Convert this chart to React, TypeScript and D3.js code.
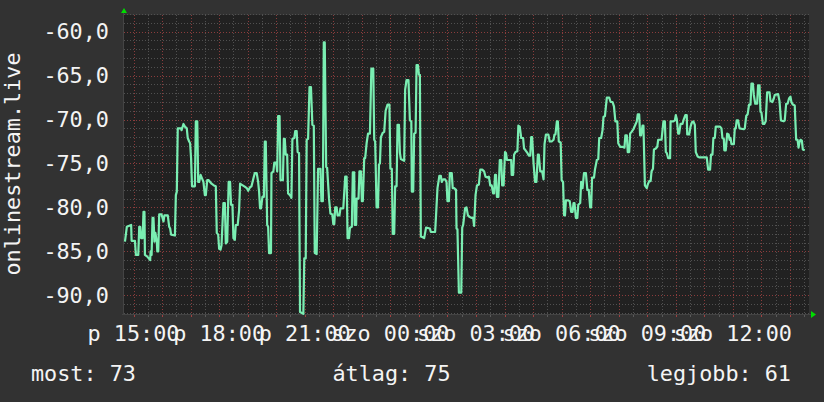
import React from "react";
import * as d3 from "d3";

// minutes after 14:40 (Fri) -> signal value
const readings: [number, number][] = [
[2,-83.9],[6,-82.2],[15,-82.0],[16,-83.8],[23,-83.8],[25,-85.4],[30,-85.4],[32,-82.2],[34,-82.2],[36,-83.5],[39,-83.5],[41,-80.5],[43,-80.5],[44,-85.4],[49,-85.6],[55,-86.0],[56,-85.0],[58,-85.4],[60,-81.2],[62,-81.2],[64,-83.9],[66,-82.9],[69,-83.9],[70,-85.0],[72,-85.0],[74,-80.8],[79,-80.8],[81,-81.2],[83,-81.6],[85,-80.9],[92,-80.9],[95,-82.2],[97,-82.4],[99,-83.1],[107,-83.2],[109,-78.6],[111,-78.2],[113,-71.0],[120,-71.0],[121,-71.2],[125,-70.5],[128,-70.8],[132,-71.0],[134,-72.1],[137,-72.5],[139,-72.7],[141,-74.4],[143,-77.6],[149,-77.6],[151,-70.2],[154,-70.2],[156,-77.1],[158,-77.1],[161,-76.3],[164,-76.7],[167,-77.1],[170,-78.6],[172,-78.6],[175,-76.9],[178,-76.9],[181,-77.1],[184,-77.3],[189,-77.5],[193,-77.6],[195,-82.9],[198,-83.1],[200,-84.7],[203,-84.8],[205,-84.3],[209,-79.5],[212,-79.5],[214,-84.1],[217,-83.9],[220,-77.1],[223,-77.1],[225,-79.7],[228,-79.7],[230,-83.5],[233,-83.7],[235,-82.0],[239,-82.0],
[242,-80.3],[244,-77.3],[247,-77.4],[253,-77.6],[258,-77.8],[261,-78.1],[265,-77.7],[268,-77.6],[272,-76.7],[275,-76.1],[279,-76.1],[282,-77.1],[284,-78.2],[286,-80.1],[288,-80.1],[291,-78.8],[294,-78.8],[296,-72.5],[298,-72.5],[301,-82.0],[303,-82.2],[305,-85.2],[309,-85.2],[310,-76.1],[314,-75.9],[316,-74.9],[320,-74.9],[322,-75.9],[324,-69.6],[327,-69.6],[329,-76.9],[334,-76.9],[336,-72.2],[338,-72.2],[340,-74.0],[343,-74.0],[345,-78.4],[349,-78.6],[352,-78.9],[354,-72.2],[358,-72.1],[360,-71.3],[363,-71.3],[365,-73.7],[368,-73.8],[370,-91.9],[377,-92.1],[379,-85.8],[382,-85.8],[384,-72.3],[387,-72.2],[390,-66.3],[393,-66.3],[396,-70.6],[399,-70.7],[401,-85.2],[405,-85.3],[408,-75.6],[413,-75.6],[415,-79.3],[418,-79.3],[420,-61.2],[422,-61.2],[425,-75.4],[427,-75.5],[431,-79.0],[434,-80.7],[438,-80.8],[440,-81.9],[442,-81.9],[444,-80.0],[447,-80.0],[449,-80.9],[453,-80.9],[455,-80.1],[461,-80.1],[465,-76.5],[468,-76.5],[470,-83.5],[473,-83.5],[475,-82.3],[479,-82.2],[481,-76.0],[484,-76.0],
[485,-82.0],[488,-82.0],[489,-79.0],[493,-79.0],[495,-75.9],[498,-75.9],[500,-79.3],[502,-79.3],[505,-74.4],[507,-74.4],[510,-72.7],[513,-71.6],[517,-71.6],[520,-64.2],[524,-64.2],[526,-72.3],[528,-72.5],[531,-80.0],[534,-80.0],[536,-75.1],[538,-75.0],[540,-72.0],[544,-71.5],[547,-71.4],[550,-69.0],[554,-68.3],[558,-68.3],[560,-75.6],[563,-75.6],[565,-83.0],[568,-83.0],[570,-77.6],[573,-77.6],[575,-70.6],[578,-70.6],[580,-73.8],[582,-74.5],[589,-74.7],[591,-66.6],[594,-65.5],[598,-65.5],[601,-70.1],[604,-70.2],[605,-78.2],[608,-78.2],[610,-71.6],[613,-71.5],[615,-63.8],[618,-63.8],[620,-64.9],[622,-64.9],[624,-83.3],[628,-83.4],[631,-83.5],[635,-82.3],[643,-82.4],[645,-82.8],[654,-82.8],[656,-80.9],[659,-77.8],[663,-76.4],[666,-76.4],[668,-77.1],[671,-76.8],[675,-76.8],[678,-77.1],[680,-79.3],[683,-79.3],[685,-76.1],[689,-76.1],[691,-77.8],[694,-77.8],[698,-78.0],[699,-82.4],[701,-82.5],[704,-89.7],[709,-89.7],[711,-82.3],[713,-82.0],
[717,-80.1],[720,-80.0],[723,-80.9],[727,-81.1],[731,-81.2],[734,-81.2],[736,-82.1],[739,-78.6],[742,-77.5],[746,-77.4],[749,-75.7],[753,-75.7],[757,-75.9],[760,-76.5],[764,-76.6],[767,-76.5],[770,-77.5],[773,-77.5],[776,-78.4],[778,-78.4],[780,-76.3],[782,-76.3],[784,-78.8],[787,-78.8],[790,-74.6],[793,-74.6],[795,-77.5],[798,-77.5],[801,-73.7],[803,-73.8],[805,-74.6],[814,-74.6],[815,-76.3],[818,-76.3],[820,-74.0],[823,-73.7],[827,-73.6],[829,-70.7],[832,-70.8],[835,-72.1],[839,-72.1],[841,-73.3],[844,-73.5],[848,-73.8],[851,-74.1],[854,-74.1],[856,-72.0],[858,-72.0],[861,-75.0],[864,-77.1],[867,-77.1],[870,-74.0],[872,-74.0],[875,-75.9],[879,-75.9],[882,-76.8],[884,-72.8],[887,-71.7],[892,-71.7],[895,-72.5],[899,-72.5],[903,-72.3],[905,-71.7],[907,-71.7],[910,-70.2],[912,-70.2],[914,-72.5],[918,-72.6],[920,-76.9],[923,-77.1],[925,-80.9],[927,-80.9],[929,-79.2],[934,-79.2],[937,-79.3],[940,-80.5],[943,-80.5],[945,-79.5],[947,-79.5],[950,-81.2],[953,-81.2],[955,-79.7],[959,-79.5],[961,-77.1],
[964,-77.8],[967,-76.1],[971,-76.1],[974,-78.0],[977,-78.0],[980,-80.0],[982,-80.0],[984,-76.6],[988,-76.6],[990,-75.7],[994,-74.6],[997,-74.5],[999,-72.1],[1003,-72.1],[1006,-71.2],[1008,-69.7],[1011,-69.6],[1015,-67.5],[1020,-67.5],[1023,-68.0],[1027,-68.0],[1030,-68.5],[1033,-70.2],[1037,-70.2],[1039,-72.7],[1043,-73.1],[1048,-73.1],[1052,-73.2],[1054,-71.8],[1057,-71.8],[1059,-73.7],[1062,-73.7],[1064,-71.6],[1067,-71.4],[1071,-71.1],[1074,-70.7],[1078,-70.2],[1080,-69.4],[1083,-69.4],[1085,-71.8],[1087,-71.8],[1090,-70.7],[1092,-70.7],[1095,-77.5],[1099,-77.8],[1101,-77.4],[1104,-77.0],[1107,-77.0],[1109,-75.9],[1112,-75.6],[1114,-73.4],[1118,-73.3],[1121,-73.1],[1123,-72.3],[1130,-72.3],[1134,-70.2],[1137,-70.2],[1139,-73.7],[1141,-73.8],[1144,-74.4],[1148,-74.4],[1149,-70.2],[1155,-70.2],[1158,-70.1],[1160,-69.5],[1162,-69.9],[1165,-71.6],[1167,-71.6],[1170,-70.5],[1174,-70.5],[1176,-70.1],[1180,-69.5],[1183,-69.5],[1184,-71.7],[1188,-71.7],[1191,-70.8],[1194,-70.3],[1197,-70.2],
[1200,-70.6],[1202,-73.7],[1206,-74.2],[1209,-74.3],[1225,-74.3],[1228,-75.7],[1232,-75.7],[1234,-74.0],[1237,-74.0],[1239,-72.1],[1242,-72.1],[1244,-70.8],[1253,-70.8],[1256,-71.0],[1258,-72.1],[1261,-72.2],[1262,-73.5],[1265,-73.5],[1268,-71.6],[1271,-71.7],[1273,-72.3],[1275,-72.1],[1277,-72.8],[1282,-72.8],[1284,-71.0],[1286,-71.0],[1288,-70.1],[1291,-70.1],[1294,-71.0],[1303,-71.1],[1305,-71.0],[1308,-69.6],[1311,-69.4],[1314,-68.3],[1317,-68.3],[1319,-65.9],[1322,-65.9],[1324,-67.2],[1327,-68.2],[1331,-68.2],[1333,-66.1],[1336,-66.1],[1338,-69.1],[1340,-69.2],[1343,-70.5],[1346,-70.5],[1349,-70.2],[1352,-66.9],[1357,-66.9],[1359,-67.9],[1363,-68.0],[1366,-67.6],[1368,-67.2],[1375,-67.1],[1378,-67.9],[1381,-70.1],[1387,-70.2],[1389,-70.1],[1392,-68.2],[1395,-68.2],[1398,-67.6],[1401,-67.4],[1403,-68.0],[1406,-68.3],[1410,-68.4],[1413,-72.3],[1416,-72.3],[1418,-73.2],[1420,-72.6],[1422,-72.3],[1425,-72.4],[1427,-73.4],[1431,-73.5]
];

const yTicks = [-60, -65, -70, -75, -80, -85, -90];
const xLabelMinutes = [20, 200, 380, 560, 740, 920, 1100, 1280];
const xLabels = ["p 15:00", "p 18:00", "p 21:00", "szo 00:00", "szo 03:00", "szo 06:00", "szo 09:00", "szo 12:00"];
const legendLabels = ["most: 73", "átlag: 75", "legjobb: 61"];
const yTitle = "onlinestream.live";

const W = 824, H = 402;
const L = 124, R = 809, T = 15, B = 314;
const FONT = "'DejaVu Sans Mono', monospace";
const FS = 21.8;

export default function App() {
  const x = d3.scaleLinear().domain([0, 1440]).range([L, R]);
  const y = d3.scaleLinear().domain([-92.13, -58.1]).range([B, T]);
  const line = d3.line<[number, number]>().x(d => x(d[0])).y(d => y(d[1]));

  const minorY = d3.range(-92, -58 + 0.001, 1);
  const minorX = d3.range(20 - 30, 1440 + 1, 30).filter(m => m > 0 && m < 1440);

  return (
    <svg width={W} height={H} style={{ position: "absolute", left: 0, top: 0 }} fontFamily={FONT}>
      <rect width={W} height={H} fill="#323232" />
      <rect x={L} y={T} width={R - L} height={B - T} fill="#212121" />
      {minorY.map(v => {
        const major = Math.round(v) % 5 === 0;
        return (
          <line key={"hy" + v} x1={L} x2={R} y1={Math.round(y(v)) + 0.5} y2={Math.round(y(v)) + 0.5}
            stroke={major ? "#8a3c3c" : "#505050"} strokeWidth={1} strokeDasharray="1,2" />
        );
      })}
      {minorX.map(m => {
        const major = (m - 20) % 60 === 0;
        const xx = Math.round(x(m)) + 0.5;
        return (
          <g key={"vx" + m}>
            <line x1={xx} x2={xx} y1={T} y2={B} stroke={major ? "#8a3c3c" : "#505050"} strokeWidth={1} strokeDasharray="1,2" />
            <line x1={xx} x2={xx} y1={B} y2={B + 3} stroke={major ? "#a04040" : "#5a5a5a"} strokeWidth={1} />
          </g>
        );
      })}
      <line x1={L - 0.5} x2={L - 0.5} y1={T - 2} y2={B + 1} stroke="#444" />
      <line x1={L - 2} x2={R + 2} y1={B + 0.5} y2={B + 0.5} stroke="#444" />
      <path d={`M${L - 3},${T - 2} L${L + 3},${T - 2} L${L},${T - 7} Z`} fill="#00dd00" />
      <path d={`M${R + 2},${B - 3} L${R + 2},${B + 4} L${R + 7},${B + 0.5} Z`} fill="#00dd00" />
      <path d={line(readings) || ""} fill="none" stroke="#7aeeb2" strokeWidth={2.2} strokeLinejoin="round" />
      {yTicks.map(v => (
        <text key={"yl" + v} x={109} y={y(v) + 7.8} textAnchor="end" fontSize={FS} fill="#f4f4f4">
          {v.toFixed(1).replace(".", ",")}
        </text>
      ))}
      {xLabelMinutes.map((m, i) => (
        <text key={"xl" + m} x={x(m)} y={340.5} textAnchor="middle" fontSize={FS} fill="#f4f4f4">
          {xLabels[i]}
        </text>
      ))}
      <text transform="translate(19.5,164) rotate(-90)" textAnchor="middle" fontSize={FS} fill="#f4f4f4">{yTitle}</text>
      <text x={31} y={380.5} fontSize={FS} fill="#f4f4f4">{legendLabels[0]}</text>
      <text x={332.5} y={380.5} fontSize={FS} fill="#f4f4f4">{legendLabels[1]}</text>
      <text x={791} y={380.5} textAnchor="end" fontSize={FS} fill="#f4f4f4">{legendLabels[2]}</text>
    </svg>
  );
}
